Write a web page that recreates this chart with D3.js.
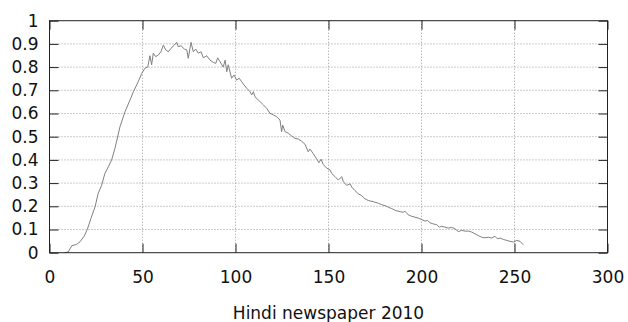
<!DOCTYPE html>
<html>
<head>
<meta charset="utf-8">
<script src="https://cdn.jsdelivr.net/npm/d3@7"></script>
<style>
body { margin: 0; background: #fff; }
text { font-family: "DejaVu Sans", sans-serif; }
</style>
</head>
<body>
<div id="chart"></div>
<script>
// values
var xValues = [8, 10, 12, 14.6, 16.4, 18.7, 20.3, 22.3, 24.5, 26.2, 28, 29.8, 31.6, 33.4, 35.2, 37.9,
	40.6, 43.3, 45.1, 47.7, 49.6, 51.3, 52.8, 54, 54.9, 55.8, 57.1, 58.5, 59.9, 61.2, 62.5, 63.9,
	65.3, 67.1, 68.4, 69.2, 70.7, 72.5, 73.8, 74.6, 76.1, 77.3, 78.6, 80, 81.5, 82.7, 84.5, 86.3,
	88.1, 89.4, 90.4, 91.7, 93.4, 94.4, 95.3, 96.1, 97.9, 99.2, 100.6, 102, 103.3, 104.6, 106,
	107.8, 108.7, 109.6, 110.5, 112.3, 113.2, 115, 116.8, 118.5, 120.3, 122.2, 123.9, 124.8, 125.4,
	126.6, 128.4, 130.2, 132, 133.8, 135.6, 137.4, 139.1, 140, 141.8, 143.7, 144.9, 146, 147.2,
	149, 150.8, 151.7, 153.5, 155.3, 157.1, 158, 159.8, 161.6, 162.5, 164.2, 166, 167.8, 169.6,
	171.4, 174.1, 176.8, 178.6, 180.4, 182.2, 184, 186, 188.5, 190.2, 191.1, 192.9, 194.7, 196.5,
	198.3, 200.1, 201.9, 203.2, 204.6, 206.3, 208.1, 209.6, 210.8, 212.6, 214.4, 216.2, 218, 219.8,
	221.6, 223.4, 225.2, 227, 228.8, 230.5, 232.3, 234.1, 235.9, 237.7, 239.5, 240.8, 242.3, 244,
	245.8, 247.6, 249.4, 251.2, 253, 254.7];
var yValues = [0, 0.003, 0.03, 0.036, 0.047, 0.072, 0.1, 0.148, 0.198, 0.256, 0.29, 0.342, 0.37, 0.4, 0.45, 0.543,
	0.608, 0.658, 0.694, 0.737, 0.773, 0.795, 0.8, 0.849, 0.81, 0.86, 0.845, 0.852, 0.866, 0.895, 0.874, 0.866,
	0.881, 0.895, 0.907, 0.888, 0.892, 0.878, 0.874, 0.838, 0.907, 0.866, 0.878, 0.86, 0.866, 0.84, 0.849, 0.83,
	0.82, 0.816, 0.84, 0.823, 0.8, 0.83, 0.78, 0.81, 0.752, 0.766, 0.744, 0.752, 0.737, 0.723, 0.709,
	0.694, 0.68, 0.694, 0.672, 0.658, 0.651, 0.637, 0.622, 0.601, 0.594, 0.586, 0.572, 0.522, 0.55,
	0.522, 0.515, 0.503, 0.493, 0.49, 0.48, 0.467, 0.435, 0.447, 0.427, 0.403, 0.388, 0.403, 0.38,
	0.365, 0.357, 0.342, 0.328, 0.313, 0.328, 0.306, 0.29, 0.297, 0.283, 0.268, 0.254, 0.246, 0.232,
	0.225, 0.22, 0.213, 0.207, 0.203, 0.196, 0.19, 0.182, 0.177, 0.174, 0.179, 0.163, 0.157, 0.153,
	0.149, 0.143, 0.136, 0.139, 0.129, 0.124, 0.121, 0.11, 0.114, 0.11, 0.106, 0.109, 0.103, 0.091,
	0.096, 0.093, 0.093, 0.089, 0.081, 0.074, 0.067, 0.064, 0.067, 0.063, 0.071, 0.06, 0.063, 0.057,
	0.053, 0.049, 0.046, 0.053, 0.049, 0.034];
var xTicks = [0, 50, 100, 150, 200, 250, 300];
var yTicks = [0, 0.1, 0.2, 0.3, 0.4, 0.5, 0.6, 0.7, 0.8, 0.9, 1];
var xTitle = "Hindi newspaper 2010";

var marginLeft = 49.5, marginTop = 20.7;
var width = 558, height = 232;
var fontSize = 17;

var svg = d3.select("#chart")
	.append("svg")
	.attr("width", 628)
	.attr("height", 322);

var chart = svg.append("g")
	.attr("transform", `translate(${marginLeft}, ${marginTop})`);

var xScale = d3.scaleLinear().domain([0, 300]).range([0, width]);
var yScale = d3.scaleLinear().domain([0, 1]).range([height, 0]);

// dotted grid
chart.append("g").selectAll("line")
	.data(xTicks.slice(1, -1)).enter().append("line")
	.attr("x1", d => xScale(d)).attr("x2", d => xScale(d))
	.attr("y1", 0).attr("y2", height)
	.attr("stroke", "#999").attr("stroke-width", 1)
	.attr("stroke-dasharray", "1,2");
chart.append("g").selectAll("line")
	.data(yTicks.slice(1, -1)).enter().append("line")
	.attr("x1", 0).attr("x2", width)
	.attr("y1", d => yScale(d)).attr("y2", d => yScale(d))
	.attr("stroke", "#999").attr("stroke-width", 1)
	.attr("stroke-dasharray", "1,2");

// the curve
var points = xValues.map((x, i) => [x, yValues[i]]);
chart.append("path")
	.datum(points)
	.attr("fill", "none")
	.attr("stroke", "#808080")
	.attr("stroke-width", 1)
	.attr("d", d3.line().x(d => xScale(d[0])).y(d => yScale(d[1])));

// axes with inward ticks on all four sides
function styleAxis(g) {
	g.select(".domain").remove();
	g.selectAll("line").attr("stroke", "#222");
	g.selectAll("text").attr("font-size", fontSize).attr("fill", "#111")
		.attr("font-family", "'DejaVu Sans', sans-serif");
}

chart.append("g")
	.attr("transform", `translate(0, ${height})`)
	.call(d3.axisBottom(xScale).tickValues(xTicks).tickSize(-9).tickPadding(18).tickFormat(d3.format("d")))
	.call(styleAxis);
chart.append("g")
	.call(d3.axisTop(xScale).tickValues(xTicks).tickSize(-9).tickFormat(""))
	.call(styleAxis);
chart.append("g")
	.call(d3.axisLeft(yScale).tickValues(yTicks).tickSize(-9).tickPadding(11).tickFormat(d => String(+d.toFixed(1))))
	.call(styleAxis);
chart.append("g")
	.attr("transform", `translate(${width}, 0)`)
	.call(d3.axisRight(yScale).tickValues(yTicks).tickSize(-9).tickFormat(""))
	.call(styleAxis);

// frame
chart.append("rect")
	.attr("x", 0).attr("y", 0)
	.attr("width", width).attr("height", height)
	.attr("fill", "none")
	.attr("stroke", "#222")
	.attr("stroke-width", 1);

svg.append("text")
	.attr("x", marginLeft + width / 2)
	.attr("y", 319)
	.attr("text-anchor", "middle")
	.attr("font-size", fontSize)
	.attr("fill", "#111")
	.text(xTitle);
</script>
</body>
</html>
